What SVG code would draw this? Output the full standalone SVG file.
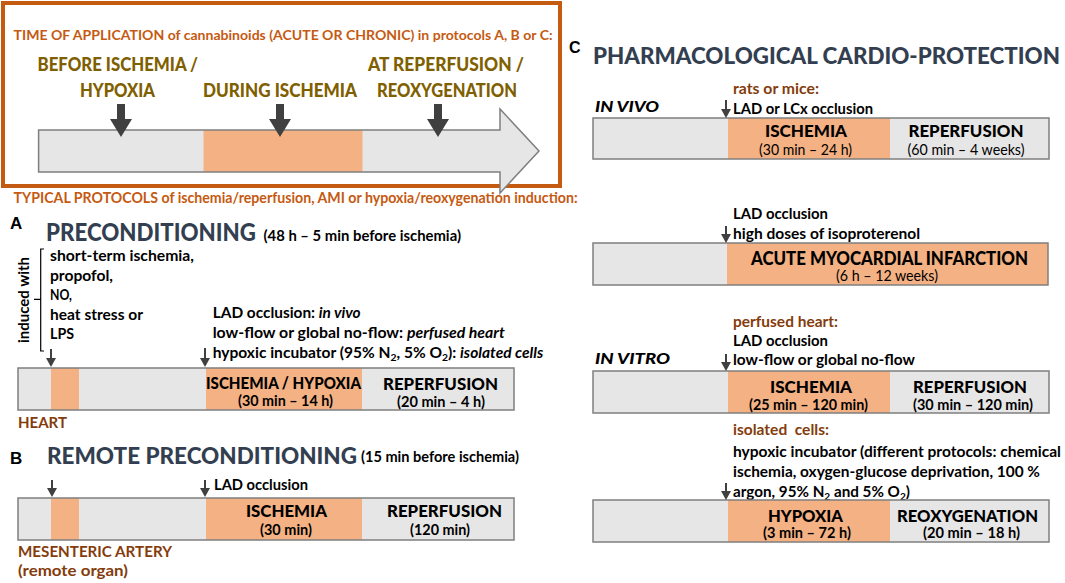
<svg xmlns="http://www.w3.org/2000/svg" width="1065" height="583" viewBox="0 0 1065 583">
<defs>
<style>
text{font-family:Lato,"Open Sans","Liberation Sans",sans-serif;font-weight:bold;fill:#000;}
.t{font-size:15px}
.o{fill:#c55a11;font-size:15px}
.ol{fill:#7f6000;font-size:19px;font-weight:900}
.br{fill:#843c0c;font-size:15px}
.ttl{fill:#333f50;font-size:24px;font-weight:900}
.lt{font-family:"Liberation Sans",Arial,sans-serif;font-size:17px}
.bl{font-size:17px;font-weight:900}
.sl{font-size:14.5px}
.rg{font-weight:normal}
.it{font-style:italic}
.m{text-anchor:middle}
.bar{fill:#e7e6e6}
.bo{fill:none;stroke:#7f7f7f;stroke-width:1.5}
.or{fill:#f4b183}
.ar{stroke:#404040;stroke-width:2;fill:none;marker-end:url(#ah)}
.big{fill:#404040}
</style>
<marker id="ah" viewBox="0 0 9 10" refX="6" refY="5" markerWidth="9" markerHeight="10" markerUnits="userSpaceOnUse" orient="auto">
<path d="M0,0 L9,5 L0,10 Z" fill="#404040"/>
</marker>
</defs>
<rect width="1065" height="583" fill="#fff"/>

<g id="time-of-application">
<rect x="3" y="3" width="557" height="183" fill="none" stroke="#c55a11" stroke-width="4"/>
<text class="o" x="13.6" y="40" textLength="539" lengthAdjust="spacingAndGlyphs" style="font-size:14px">TIME OF APPLICATION of cannabinoids (ACUTE OR CHRONIC) in protocols A, B or C:</text>
<path d="M38.6,130 L500,130 L500,109 L539,151 L500,193 L500,172 L38.6,172 Z" fill="#e7e6e6"/>
<rect class="or" x="203.5" y="130" width="159" height="42"/>
<path d="M38.6,130 L500,130 L500,109 L539,151 L500,193 L500,172 L38.6,172 Z" fill="none" stroke="#7f7f7f" stroke-width="1.5"/>
<text class="ol" x="37.5" y="71" textLength="160.5" lengthAdjust="spacingAndGlyphs">BEFORE ISCHEMIA /</text>
<text class="ol" x="80" y="97" textLength="75" lengthAdjust="spacingAndGlyphs">HYPOXIA</text>
<text class="ol" x="203" y="97" textLength="154" lengthAdjust="spacingAndGlyphs">DURING ISCHEMIA</text>
<text class="ol" x="368" y="71" textLength="156" lengthAdjust="spacingAndGlyphs">AT REPERFUSION /</text>
<text class="ol" x="377" y="97" textLength="140" lengthAdjust="spacingAndGlyphs">REOXYGENATION</text>
<path class="big" d="M117,104 L125,104 L125,119 L132,119 L121,137 L110,119 L117,119 Z"/>
<path class="big" d="M276,104 L284,104 L284,119 L291,119 L280,137 L269,119 L276,119 Z"/>
<path class="big" d="M434,104 L442,104 L442,119 L449,119 L438,137 L427,119 L434,119 Z"/>
</g>

<g id="typical-protocols-title">
<text class="o" x="13.6" y="203" textLength="564" lengthAdjust="spacingAndGlyphs">TYPICAL PROTOCOLS of ischemia/reperfusion, AMI or hypoxia/reoxygenation induction:</text>
</g>

<g id="A-title">
<text class="lt" x="10" y="229">A</text>
<text class="ttl" x="46" y="241" textLength="210" lengthAdjust="spacingAndGlyphs">PRECONDITIONING</text>
<text class="t" x="263.5" y="241" textLength="197.5" lengthAdjust="spacingAndGlyphs">(48 h – 5 min before ischemia)</text>
</g>

<g id="A-inducers">
<text class="t" x="0" y="0" transform="translate(29,300) rotate(-90)" text-anchor="middle" textLength="86" lengthAdjust="spacingAndGlyphs">induced with</text>
<path d="M44,249 L40.7,249 L40.7,351 L44,351 M40.7,299.3 L34,299.3" fill="none" stroke="#000" stroke-width="1.2"/>
<text class="t" x="50" y="261" textLength="144" lengthAdjust="spacingAndGlyphs">short-term ischemia,</text>
<text class="t" x="50" y="281" textLength="63" lengthAdjust="spacingAndGlyphs">propofol,</text>
<text class="t" x="50" y="300" textLength="22" lengthAdjust="spacingAndGlyphs">NO,</text>
<text class="t" x="50" y="320" textLength="93" lengthAdjust="spacingAndGlyphs">heat stress or</text>
<text class="t" x="50" y="339" textLength="24" lengthAdjust="spacingAndGlyphs">LPS</text>
</g>

<g id="A-methods">
<text class="t" x="212.7" y="318" textLength="148" lengthAdjust="spacingAndGlyphs">LAD occlusion: <tspan class="it">in vivo</tspan></text>
<text class="t" x="212.7" y="338" textLength="292" lengthAdjust="spacingAndGlyphs">low-flow or global no-flow: <tspan class="it">perfused heart</tspan></text>
<text class="t" x="212.7" y="358" textLength="330.5" lengthAdjust="spacingAndGlyphs">hypoxic incubator (95% N<tspan font-size="10" dy="3">2</tspan><tspan dy="-3">, 5% O</tspan><tspan font-size="10" dy="3">2</tspan><tspan dy="-3">): </tspan><tspan class="it">isolated cells</tspan></text>
</g>

<g id="A-bar">
<rect class="bar" x="18" y="368" width="496" height="42"/>
<rect class="or" x="51" y="368" width="28" height="42"/>
<rect class="or" x="206" y="368" width="156" height="42"/>
<rect class="bo" x="18" y="368" width="496" height="42"/>
<text class="bl m" x="283.5" y="389" textLength="155" lengthAdjust="spacingAndGlyphs">ISCHEMIA / HYPOXIA</text>
<text class="sl m" x="285.5" y="406" textLength="95" lengthAdjust="spacingAndGlyphs">(30 min – 14 h)</text>
<text class="bl m" x="440.5" y="390" textLength="115" lengthAdjust="spacingAndGlyphs">REPERFUSION</text>
<text class="sl m" x="441" y="407" textLength="88" lengthAdjust="spacingAndGlyphs">(20 min – 4 h)</text>
<text class="br" x="18" y="428" textLength="49" lengthAdjust="spacingAndGlyphs">HEART</text>
</g>

<g id="B-title">
<text class="lt" x="10" y="464">B</text>
<text class="ttl" x="47" y="464" textLength="310" lengthAdjust="spacingAndGlyphs" style="font-size:23px">REMOTE PRECONDITIONING</text>
<text class="t" x="361" y="462" textLength="158" lengthAdjust="spacingAndGlyphs">(15 min before ischemia)</text>
<text class="t" x="214" y="490" textLength="94" lengthAdjust="spacingAndGlyphs">LAD occlusion</text>
</g>

<g id="B-bar">
<rect class="bar" x="18" y="498" width="496" height="42"/>
<rect class="or" x="51" y="498" width="28" height="42"/>
<rect class="or" x="206" y="498" width="156" height="42"/>
<rect class="bo" x="18" y="498" width="496" height="42"/>
<text class="bl m" x="286.5" y="517" textLength="81" lengthAdjust="spacingAndGlyphs">ISCHEMIA</text>
<text class="sl m" x="286" y="535" textLength="52" lengthAdjust="spacingAndGlyphs">(30 min)</text>
<text class="bl m" x="444.5" y="517" textLength="115" lengthAdjust="spacingAndGlyphs">REPERFUSION</text>
<text class="sl m" x="440" y="535" textLength="60" lengthAdjust="spacingAndGlyphs">(120 min)</text>
<text class="br" x="18" y="557" textLength="154" lengthAdjust="spacingAndGlyphs">MESENTERIC ARTERY</text>
<text class="br" x="18" y="576" textLength="110" lengthAdjust="spacingAndGlyphs">(remote organ)</text>
</g>

<g id="C-title">
<text class="lt" x="569" y="53" style="font-size:16px">C</text>
<text class="ttl" x="593" y="64" textLength="467" lengthAdjust="spacingAndGlyphs" style="font-size:22.5px">PHARMACOLOGICAL CARDIO-PROTECTION</text>
</g>

<g id="C-in-vivo">
<text class="br" x="733" y="94" textLength="86" lengthAdjust="spacingAndGlyphs">rats or mice:</text>
<text class="t it" x="595" y="112" textLength="64" lengthAdjust="spacingAndGlyphs" style="font-weight:900">IN VIVO</text>
<text class="t" x="733" y="114" textLength="140" lengthAdjust="spacingAndGlyphs">LAD or LCx occlusion</text>
<rect class="bar" x="593" y="118" width="456" height="41"/>
<rect class="or" x="728" y="118" width="162" height="41"/>
<rect class="bo" x="593" y="118" width="456" height="41"/>
<text class="bl m" x="806" y="137" textLength="82" lengthAdjust="spacingAndGlyphs">ISCHEMIA</text>
<text class="sl rg m" x="805.5" y="155" textLength="93" lengthAdjust="spacingAndGlyphs">(30 min – 24 h)</text>
<text class="bl m" x="966" y="137" textLength="115" lengthAdjust="spacingAndGlyphs">REPERFUSION</text>
<text class="sl rg m" x="966" y="155" textLength="117" lengthAdjust="spacingAndGlyphs">(60 min – 4 weeks)</text>
</g>

<g id="C-ami">
<text class="t" x="733" y="219" textLength="95" lengthAdjust="spacingAndGlyphs">LAD occlusion</text>
<text class="t" x="733" y="239" textLength="187" lengthAdjust="spacingAndGlyphs">high doses of isoproterenol</text>
<rect class="bar" x="593" y="243" width="455" height="42"/>
<rect class="or" x="727" y="243" width="321" height="42"/>
<rect class="bo" x="593" y="243" width="455" height="42"/>
<text class="bl m" x="889.5" y="265" textLength="277" lengthAdjust="spacingAndGlyphs" style="font-size:18px">ACUTE MYOCARDIAL INFARCTION</text>
<text class="sl rg m" x="887" y="281" textLength="102" lengthAdjust="spacingAndGlyphs">(6 h – 12 weeks)</text>
</g>

<g id="C-in-vitro-perfused">
<text class="br" x="733" y="327" textLength="105" lengthAdjust="spacingAndGlyphs">perfused heart:</text>
<text class="t" x="733" y="346" textLength="95" lengthAdjust="spacingAndGlyphs">LAD occlusion</text>
<text class="t" x="733" y="365" textLength="182" lengthAdjust="spacingAndGlyphs">low-flow or global no-flow</text>
<text class="t it" x="595" y="364" textLength="75" lengthAdjust="spacingAndGlyphs" style="font-weight:900">IN VITRO</text>
<rect class="bar" x="593" y="371" width="456" height="42"/>
<rect class="or" x="728" y="371" width="162" height="42"/>
<rect class="bo" x="593" y="371" width="456" height="42"/>
<text class="bl m" x="811" y="393" textLength="82" lengthAdjust="spacingAndGlyphs">ISCHEMIA</text>
<text class="sl m" x="808.5" y="410" textLength="119" lengthAdjust="spacingAndGlyphs">(25 min – 120 min)</text>
<text class="bl m" x="970" y="393" textLength="114" lengthAdjust="spacingAndGlyphs">REPERFUSION</text>
<text class="sl m" x="973" y="410" textLength="120" lengthAdjust="spacingAndGlyphs">(30 min – 120 min)</text>
</g>

<g id="C-in-vitro-cells">
<text class="br" x="733" y="435" textLength="96" lengthAdjust="spacingAndGlyphs">isolated&#160; cells:</text>
<text class="t" x="733" y="457" textLength="328" lengthAdjust="spacingAndGlyphs">hypoxic incubator (different protocols: chemical</text>
<text class="t" x="733" y="477" textLength="307" lengthAdjust="spacingAndGlyphs">ischemia, oxygen-glucose deprivation, 100 %</text>
<text class="t" x="733" y="497" textLength="177" lengthAdjust="spacingAndGlyphs">argon, 95% N<tspan font-size="10" dy="3">2</tspan><tspan dy="-3"> and 5% O</tspan><tspan font-size="10" dy="3">2</tspan><tspan dy="-3">)</tspan></text>
<rect class="bar" x="593" y="500" width="456" height="42"/>
<rect class="or" x="728" y="500" width="162" height="42"/>
<rect class="bo" x="593" y="500" width="456" height="42"/>
<text class="bl m" x="805.5" y="522" textLength="75" lengthAdjust="spacingAndGlyphs">HYPOXIA</text>
<text class="sl m" x="807" y="538" textLength="88" lengthAdjust="spacingAndGlyphs">(3 min – 72 h)</text>
<text class="bl m" x="967.5" y="522" textLength="141" lengthAdjust="spacingAndGlyphs">REOXYGENATION</text>
<text class="sl m" x="971.5" y="538" textLength="97" lengthAdjust="spacingAndGlyphs">(20 min – 18 h)</text>
</g>

<g id="connectors">
<line class="ar" x1="51" y1="349" x2="51" y2="364"/>
<line class="ar" x1="205" y1="348" x2="205" y2="364"/>
<line class="ar" x1="52" y1="480" x2="52" y2="494"/>
<line class="ar" x1="205" y1="480" x2="205" y2="494"/>
<line class="ar" x1="726" y1="100" x2="726" y2="115"/>
<line class="ar" x1="726" y1="226" x2="726" y2="240"/>
<line class="ar" x1="726" y1="354" x2="726" y2="368"/>
<line class="ar" x1="726" y1="483" x2="726" y2="497"/>
</g>
</svg>
